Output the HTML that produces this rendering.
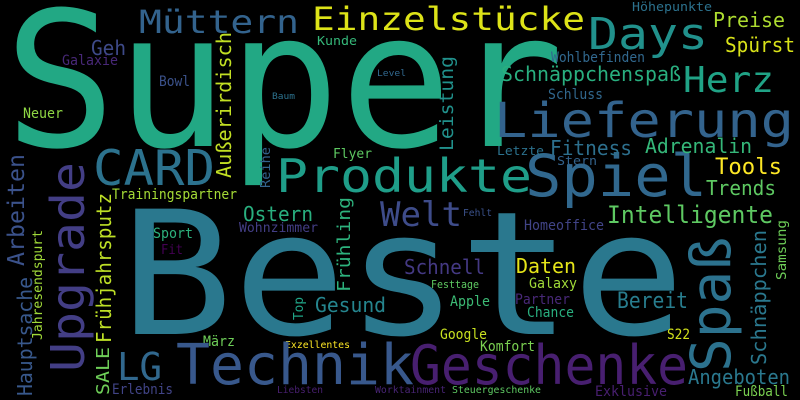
<!DOCTYPE html>
<html><head><meta charset="utf-8"><style>
html,body{margin:0;padding:0;background:#000;}
svg{display:block;}
text{font-family:"DejaVu Sans Mono","Liberation Mono",monospace;}
</style></head><body>
<svg width="800" height="400" viewBox="0 0 800 400" xmlns="http://www.w3.org/2000/svg">
<rect width="800" height="400" fill="#000"/>
<g>
<text x="4" y="146" font-size="188" textLength="560" lengthAdjust="spacingAndGlyphs" fill="#22a884">Super</text>
<text x="120" y="334" font-size="172" textLength="565" lengthAdjust="spacingAndGlyphs" fill="#2a788e">Beste</text>
<text x="312" y="30" font-size="32" textLength="273" lengthAdjust="spacingAndGlyphs" fill="#dde318">Einzelstücke</text>
<text x="139" y="33" font-size="32" textLength="160" lengthAdjust="spacingAndGlyphs" fill="#33638d">Müttern</text>
<text x="588" y="49" font-size="44" textLength="120" lengthAdjust="spacingAndGlyphs" fill="#21918c">Days</text>
<text x="713" y="27" font-size="20" textLength="72" lengthAdjust="spacingAndGlyphs" fill="#addc30">Preise</text>
<text x="632" y="11" font-size="12" textLength="80" lengthAdjust="spacingAndGlyphs" fill="#2c728e">Höhepunkte</text>
<text x="725" y="52" font-size="20" textLength="70" lengthAdjust="spacingAndGlyphs" fill="#d8e219">Spürst</text>
<text x="91" y="55" font-size="20" textLength="35" lengthAdjust="spacingAndGlyphs" fill="#3e4a89">Geh</text>
<text x="317" y="45" font-size="12" textLength="40" lengthAdjust="spacingAndGlyphs" fill="#35b779">Kunde</text>
<text x="62" y="65" font-size="14" textLength="56" lengthAdjust="spacingAndGlyphs" fill="#482878">Galaxie</text>
<text x="551" y="62" font-size="14" textLength="94" lengthAdjust="spacingAndGlyphs" fill="#31688e">Wohlbefinden</text>
<text x="683" y="92" font-size="36" textLength="91" lengthAdjust="spacingAndGlyphs" fill="#20a386">Herz</text>
<text x="501" y="81" font-size="20" textLength="180" lengthAdjust="spacingAndGlyphs" fill="#29af7f">Schnäppchenspaß</text>
<text x="377" y="76" font-size="9" textLength="29" lengthAdjust="spacingAndGlyphs" fill="#31688e">Level</text>
<text x="159" y="86" font-size="14" textLength="31" lengthAdjust="spacingAndGlyphs" fill="#3b528b">Bowl</text>
<text x="272" y="99" font-size="9" textLength="23" lengthAdjust="spacingAndGlyphs" fill="#2c728e">Baum</text>
<text x="548" y="99" font-size="14" textLength="55" lengthAdjust="spacingAndGlyphs" fill="#31688e">Schluss</text>
<text x="494" y="137" font-size="48" textLength="300" lengthAdjust="spacingAndGlyphs" fill="#33638d">Lieferung</text>
<text x="23" y="118" font-size="14" textLength="40" lengthAdjust="spacingAndGlyphs" fill="#8fd744">Neuer</text>
<text x="93" y="185" font-size="49" textLength="122" lengthAdjust="spacingAndGlyphs" fill="#2c728e">CARD</text>
<text x="276" y="192" font-size="46" textLength="256" lengthAdjust="spacingAndGlyphs" fill="#1f9e89">Produkte</text>
<text x="525" y="196" font-size="58" textLength="182" lengthAdjust="spacingAndGlyphs" fill="#31688e">Spiel</text>
<text x="550" y="155" font-size="20" textLength="82" lengthAdjust="spacingAndGlyphs" fill="#2d708e">Fitness</text>
<text x="645" y="153" font-size="20" textLength="107" lengthAdjust="spacingAndGlyphs" fill="#35b779">Adrenalin</text>
<text x="497" y="155" font-size="12" textLength="47" lengthAdjust="spacingAndGlyphs" fill="#2c728e">Letzte</text>
<text x="557" y="165" font-size="12" textLength="40" lengthAdjust="spacingAndGlyphs" fill="#33638d">Stern</text>
<text x="333" y="158" font-size="13" textLength="39" lengthAdjust="spacingAndGlyphs" fill="#5ec962">Flyer</text>
<text x="715" y="174" font-size="22" textLength="67" lengthAdjust="spacingAndGlyphs" fill="#fde725">Tools</text>
<text x="706" y="195" font-size="20" textLength="70" lengthAdjust="spacingAndGlyphs" fill="#5ec962">Trends</text>
<text x="112" y="199" font-size="14" textLength="125" lengthAdjust="spacingAndGlyphs" fill="#a5db36">Trainingspartner</text>
<text x="380" y="226" font-size="34" textLength="82" lengthAdjust="spacingAndGlyphs" fill="#3e4c8a">Welt</text>
<text x="463" y="216" font-size="10" textLength="29" lengthAdjust="spacingAndGlyphs" fill="#3b528b">Fehlt</text>
<text x="607" y="223" font-size="24" textLength="166" lengthAdjust="spacingAndGlyphs" fill="#5ec962">Intelligente</text>
<text x="524" y="230" font-size="14" textLength="80" lengthAdjust="spacingAndGlyphs" fill="#414487">Homeoffice</text>
<text x="243" y="221" font-size="20" textLength="70" lengthAdjust="spacingAndGlyphs" fill="#29af7f">Ostern</text>
<text x="239" y="232" font-size="13" textLength="79" lengthAdjust="spacingAndGlyphs" fill="#433e85">Wohnzimmer</text>
<text x="153" y="238" font-size="14" textLength="40" lengthAdjust="spacingAndGlyphs" fill="#2db27d">Sport</text>
<text x="161" y="254" font-size="13" textLength="22" lengthAdjust="spacingAndGlyphs" fill="#440154">Fit</text>
<text x="404" y="274" font-size="20" textLength="81" lengthAdjust="spacingAndGlyphs" fill="#443983">Schnell</text>
<text x="516" y="273" font-size="20" textLength="60" lengthAdjust="spacingAndGlyphs" fill="#e5e419">Daten</text>
<text x="529" y="288" font-size="14" textLength="48" lengthAdjust="spacingAndGlyphs" fill="#a0da39">Galaxy</text>
<text x="431" y="288" font-size="11" textLength="48" lengthAdjust="spacingAndGlyphs" fill="#5ec962">Festtage</text>
<text x="315" y="312" font-size="20" textLength="71" lengthAdjust="spacingAndGlyphs" fill="#25858e">Gesund</text>
<text x="450" y="306" font-size="14" textLength="40" lengthAdjust="spacingAndGlyphs" fill="#3cbb75">Apple</text>
<text x="515" y="304" font-size="14" textLength="55" lengthAdjust="spacingAndGlyphs" fill="#482878">Partner</text>
<text x="617" y="308" font-size="22" textLength="71" lengthAdjust="spacingAndGlyphs" fill="#287d8e">Bereit</text>
<text x="527" y="317" font-size="14" textLength="47" lengthAdjust="spacingAndGlyphs" fill="#29af7f">Chance</text>
<text x="440" y="339" font-size="14" textLength="47" lengthAdjust="spacingAndGlyphs" fill="#c8e020">Google</text>
<text x="667" y="339" font-size="14" textLength="23" lengthAdjust="spacingAndGlyphs" fill="#d2e21b">S22</text>
<text x="480" y="351" font-size="14" textLength="55" lengthAdjust="spacingAndGlyphs" fill="#7ad151">Komfort</text>
<text x="203" y="346" font-size="14" textLength="32" lengthAdjust="spacingAndGlyphs" fill="#6ece58">März</text>
<text x="285" y="348" font-size="10" textLength="65" lengthAdjust="spacingAndGlyphs" fill="#fde725">Exzellentes</text>
<text x="117" y="380" font-size="38" textLength="45" lengthAdjust="spacingAndGlyphs" fill="#31688e">LG</text>
<text x="176" y="384" font-size="56" textLength="238" lengthAdjust="spacingAndGlyphs" fill="#38588c">Technik</text>
<text x="410" y="384" font-size="54" textLength="278" lengthAdjust="spacingAndGlyphs" fill="#481f70">Geschenke</text>
<text x="112" y="394" font-size="14" textLength="61" lengthAdjust="spacingAndGlyphs" fill="#414487">Erlebnis</text>
<text x="277" y="393" font-size="10" textLength="46" lengthAdjust="spacingAndGlyphs" fill="#481f70">Liebsten</text>
<text x="375" y="393" font-size="10" textLength="71" lengthAdjust="spacingAndGlyphs" fill="#482475">Worktainment</text>
<text x="452" y="393" font-size="10" textLength="89" lengthAdjust="spacingAndGlyphs" fill="#5ec962">Steuergeschenke</text>
<text x="688" y="384" font-size="20" textLength="102" lengthAdjust="spacingAndGlyphs" fill="#2a788e">Angeboten</text>
<text x="595" y="396" font-size="14" textLength="72" lengthAdjust="spacingAndGlyphs" fill="#481f70">Exklusive</text>
<text x="735" y="396" font-size="14" textLength="53" lengthAdjust="spacingAndGlyphs" fill="#7ad151">Fußball</text>

<text transform="translate(453,151) rotate(-90)" font-size="19" textLength="95" lengthAdjust="spacingAndGlyphs" fill="#21918c">Leistung</text>
<text transform="translate(231,178) rotate(-90)" font-size="20" textLength="146" lengthAdjust="spacingAndGlyphs" fill="#c2df23">Außerirdisch</text>
<text transform="translate(84,372) rotate(-90)" font-size="46" textLength="210" lengthAdjust="spacingAndGlyphs" fill="#433e85">Upgrade</text>
<text transform="translate(24,266) rotate(-90)" font-size="23" textLength="112" lengthAdjust="spacingAndGlyphs" fill="#3b528b">Arbeiten</text>
<text transform="translate(32,396) rotate(-90)" font-size="20" textLength="119" lengthAdjust="spacingAndGlyphs" fill="#38588c">Hauptsache</text>
<text transform="translate(42,340) rotate(-90)" font-size="13" textLength="110" lengthAdjust="spacingAndGlyphs" fill="#a0da39">Jahresendspurt</text>
<text transform="translate(111,343) rotate(-90)" font-size="20" textLength="150" lengthAdjust="spacingAndGlyphs" fill="#bddf26">Frühjahrsputz</text>
<text transform="translate(270,188) rotate(-90)" font-size="13" textLength="41" lengthAdjust="spacingAndGlyphs" fill="#33638d">Reihe</text>
<text transform="translate(350,292) rotate(-90)" font-size="18" textLength="95" lengthAdjust="spacingAndGlyphs" fill="#2db27d">Frühling</text>
<text transform="translate(786,280) rotate(-90)" font-size="13" textLength="60" lengthAdjust="spacingAndGlyphs" fill="#6ece58">Samsung</text>
<text transform="translate(766,365) rotate(-90)" font-size="20" textLength="135" lengthAdjust="spacingAndGlyphs" fill="#2a788e">Schnäppchen</text>
<text transform="translate(730,372) rotate(-90)" font-size="55" textLength="135" lengthAdjust="spacingAndGlyphs" fill="#2c728e">Spaß</text>
<text transform="translate(303,320) rotate(-90)" font-size="13" textLength="23" lengthAdjust="spacingAndGlyphs" fill="#20a486">Top</text>
<text transform="translate(109,395) rotate(-90)" font-size="18" textLength="48" lengthAdjust="spacingAndGlyphs" fill="#6ece58">SALE</text>
</g>
</svg>
</body></html>
